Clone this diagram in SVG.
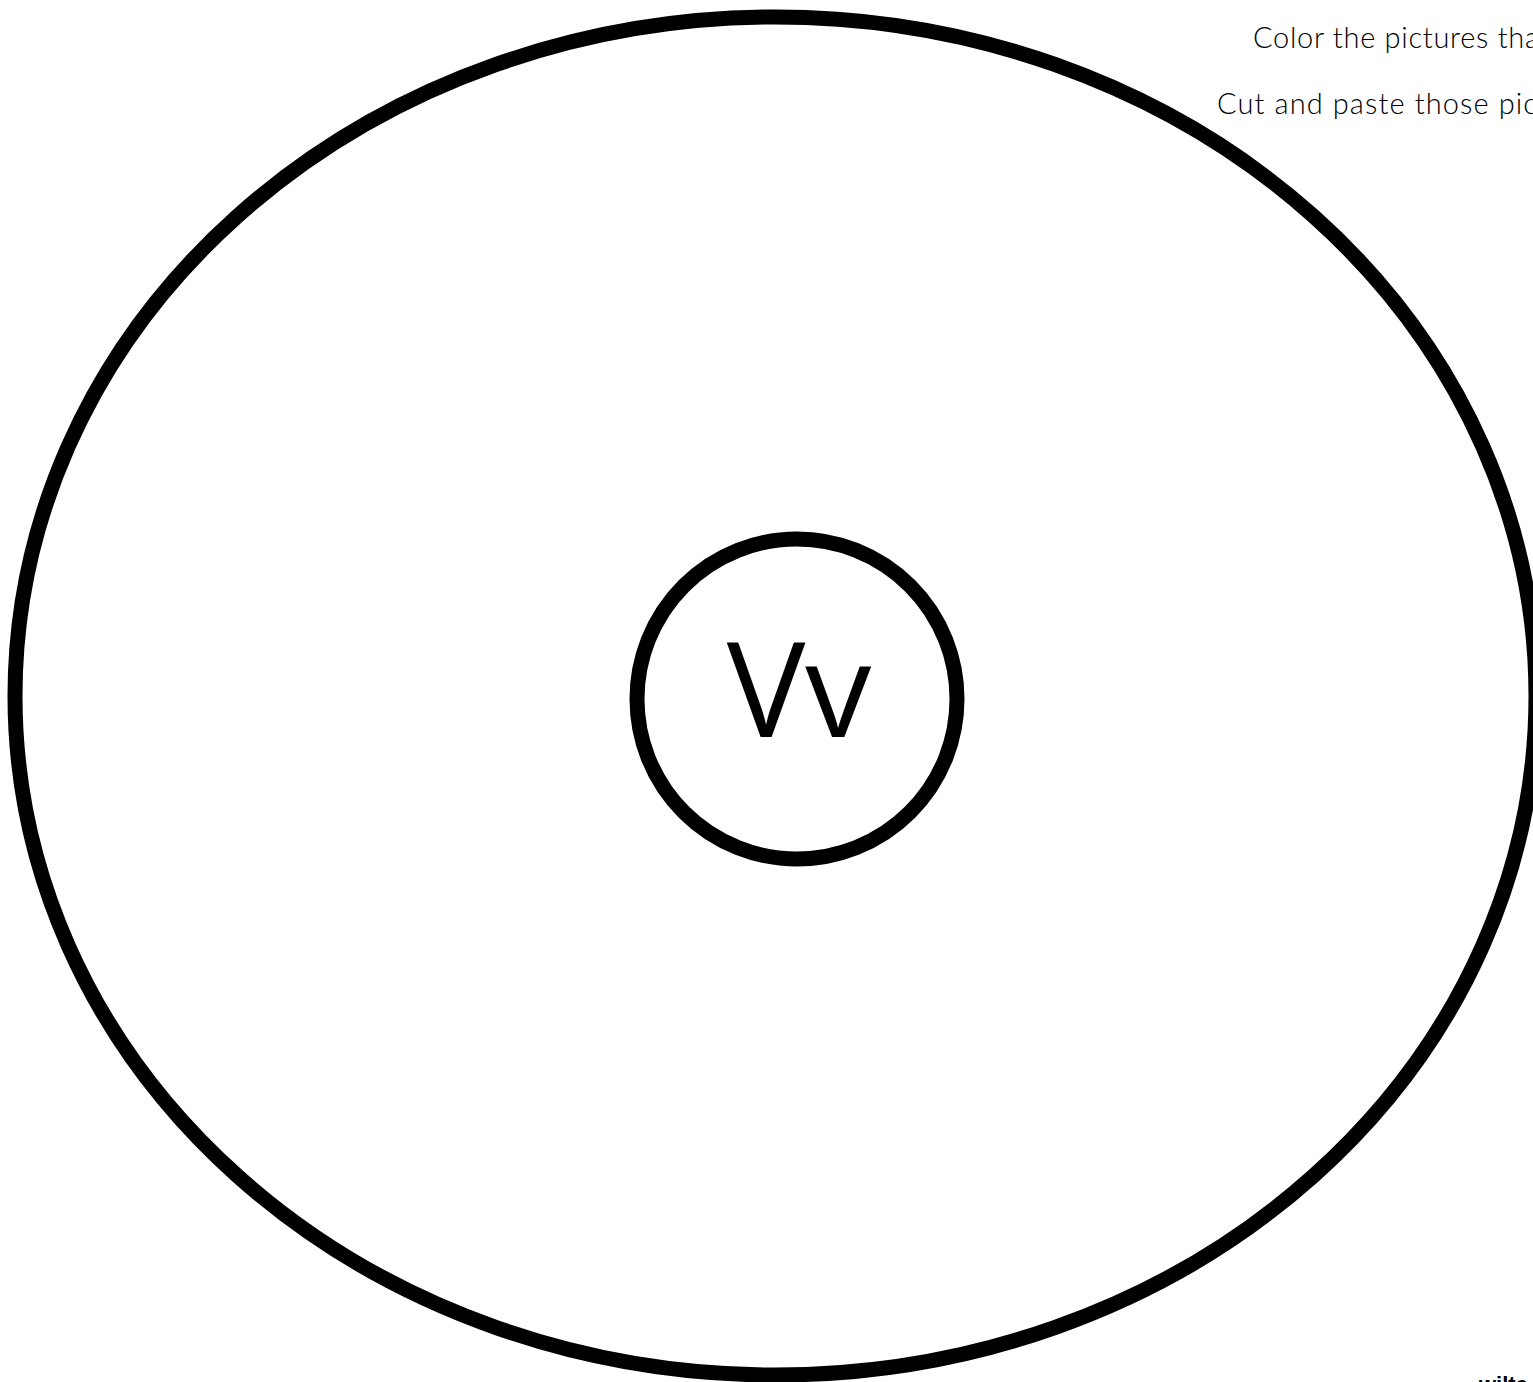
<svg xmlns="http://www.w3.org/2000/svg" width="1533" height="1382" viewBox="0 0 1533 1382">
<style>
.ring{fill:none;stroke:#000;stroke-width:15}
.instr{font-family:"Lato","Open Sans","Liberation Sans",sans-serif;font-weight:300;font-size:29px;fill:#000}
.letter{font-family:"Open Sans","Liberation Sans",sans-serif;font-size:132px;fill:#000;text-anchor:middle}
.credit{font-family:"Liberation Sans",sans-serif;font-weight:bold;font-size:22px;fill:#000}
</style>
<rect width="1533" height="1382" fill="#fff"/>
<g id="outer-ellipse">
<ellipse class="ring" cx="775.5" cy="696" rx="760.5" ry="679"/>
</g>
<g id="center-circle">
<circle class="ring" cx="797" cy="699" r="160"/>
<text class="letter" x="799" y="737">Vv</text>
</g>
<g id="instructions">
<text class="instr" x="1253" y="48" textLength="286" lengthAdjust="spacing">Color the pictures tha</text>
<text class="instr" x="1217" y="114" textLength="320" lengthAdjust="spacing">Cut and paste those pic</text>
</g>
<g id="credit">
<text class="credit" x="1479" y="1392">wilte</text>
</g>
<g id="connectors"></g>
</svg>
